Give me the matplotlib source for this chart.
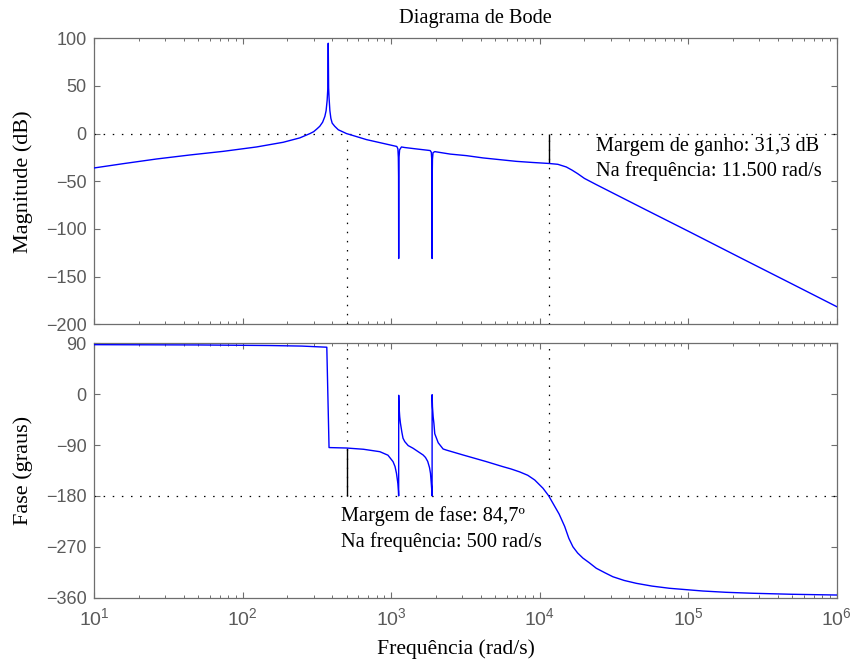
import matplotlib
matplotlib.use('Agg')
import matplotlib.pyplot as plt
from matplotlib.ticker import LogLocator, NullFormatter

plt.rcParams['font.family'] = ['Liberation Sans', 'DejaVu Sans']
plt.rcParams['mathtext.fontset'] = 'custom'
plt.rcParams['mathtext.rm'] = 'Liberation Sans'
plt.rcParams['mathtext.it'] = 'Liberation Sans:italic'
plt.rcParams['mathtext.bf'] = 'Liberation Sans:bold'

SERIF = ['Liberation Serif', 'DejaVu Serif']

# Magnitude (dB)
freq_mag = [10, 15.7, 26.3, 44.1, 73.9, 123.8, 187, 242, 283, 300, 315, 330, 345, 357,
            364, 370, 374, 376.3, 378.5, 381, 386, 392, 400, 416, 440, 474, 500, 526,
            681, 1028, 1090, 1108, 1116, 1120, 1122, 1124, 1128, 1138, 1171, 1233,
            1500, 1770, 1830, 1860, 1874, 1881, 1884, 1887, 1894, 1911, 1963, 2500,
            3206, 4150, 6955, 9000, 11500, 13240, 15100, 16500, 18000, 20000, 24040,
            49450, 102000, 233000, 480600, 1e6]
mag_db = [-36.0, -31.5, -26.6, -22.4, -18.6, -14.0, -9.1, -4.5, 0.0, 2.0, 4.8, 7.7, 12, 18,
          24, 35, 48, 94.8, 48, 38, 24, 16, 11, 7.7, 4, 1.7, 0.0, -1.0,
          -6.3, -12.6, -13.5, -16, -25, -45, -131, -45, -25, -17, -14.0, -14.6,
          -16.2, -17.5, -17.8, -19.5, -27, -47, -131, -47, -27, -20, -18.9, -21.5,
          -23.1, -25.5, -29.1, -30.3, -31.3, -32.2, -35.0, -38.3, -42.0, -47.0, -53.5,
          -78.3, -103.0, -131.5, -156.3, -181.5]

# Fase (graus)
freq_fase = [10, 50, 150, 250, 368, 381, 500, 650, 838, 950, 1028, 1060, 1084, 1108, 1118,
             1121.5, 1122.5, 1128, 1140, 1153, 1180, 1200, 1233, 1300, 1402, 1638, 1700,
             1760, 1810, 1837, 1860, 1877, 1883.5, 1884.5, 1894, 1915, 1937, 1963, 2071,
             2234, 2355, 3043, 4375, 5653, 6400, 7321, 8300, 9246, 10520, 11500, 12270,
             13500, 14720, 15700, 16730, 18000, 19530, 21500, 24040, 27500, 31100, 37000,
             44690, 57000, 74800, 125300, 180000, 272100, 500000, 1e6]
fase_graus = [87.5, 87, 86, 85, 83, -94.5, -95.3, -97.5, -101.8, -108, -119.4, -128, -140,
              -158, -172, -180, -2, -22, -40, -51.5, -68, -78, -84, -91, -95.7, -107.6,
              -112, -119, -130, -140, -158, -172, -180, -1, -22, -40, -51.5, -70, -86,
              -97, -99, -107.6, -119.4, -128.3, -132.3, -137.5, -143.5, -151.8, -166.5,
              -180, -193, -212, -234, -255, -270, -281, -290, -298, -308, -316, -323,
              -329.5, -334.6, -339.5, -343.4, -348.2, -350.5, -352.2, -354, -355.3]

# margens de estabilidade
w_cg = 11500   # frequencia da margem de ganho
mg = 31.3
w_cf = 500     # frequencia da margem de fase
mf = 84.7

fig = plt.figure(figsize=(8.55, 6.61), dpi=100)
ax1 = fig.add_axes([0.1103, 0.5094, 0.8683, 0.4327])
ax2 = fig.add_axes([0.1103, 0.0958, 0.8683, 0.3849])

dots = (0, (1.2, 6.1))

# magnitude
ax1.semilogx(freq_mag, mag_db, color='#0000ff', lw=1.0, zorder=3)
ax1.axhline(0, color='k', ls=dots, lw=0.9, zorder=2)
ax1.vlines([w_cf, w_cg], -200, 0, colors='k', linestyles=[dots], lw=0.9, zorder=2)
ax1.vlines(w_cg, -mg, 0, colors='k', lw=1.0, zorder=2)
ax1.text(24040, -18.6, 'Margem de ganho: 31,3 dB', family=SERIF, fontsize=14.7, va='baseline')
ax1.text(24040, -44.1, 'Na frequência: 11.500 rad/s', family=SERIF, fontsize=14.7, va='baseline')

# fase
ax2.semilogx(freq_fase, fase_graus, color='#0000ff', lw=1.0, zorder=3)
ax2.axhline(-180, color='k', ls=dots, lw=0.9, zorder=2)
ax2.vlines([w_cf, w_cg], -180, 90, colors='k', linestyles=[dots], lw=0.9, zorder=2)
ax2.vlines(w_cf, -180, -180 + mf, colors='k', lw=1.0, zorder=2)
ax2.text(462, -223.8, 'Margem de fase: 84,7º', family=SERIF, fontsize=14.7, va='baseline')
ax2.text(462, -269.8, 'Na frequência: 500 rad/s', family=SERIF, fontsize=14.7, va='baseline')

ax1.set_ylim(-200, 100)
ax1.set_yticks(range(-200, 101, 50))
ax2.set_ylim(-360, 90)
ax2.set_yticks(range(-360, 91, 90))

for ax in (ax1, ax2):
    ax.set_xlim(10, 1e6)
    ax.xaxis.set_major_locator(LogLocator(base=10, numticks=10))
    ax.xaxis.set_minor_locator(LogLocator(base=10, subs=range(2, 10), numticks=20))
    ax.xaxis.set_minor_formatter(NullFormatter())
    ax.tick_params(which='both', direction='in', top=True, right=True,
                   labelsize=13, labelcolor='#5a5a5a', color='#6e6e6e', pad=5.5)
    ax.tick_params(which='major', length=4.5, width=0.8)
    ax.tick_params(which='minor', length=2.5, width=0.7)
    for s in ax.spines.values():
        s.set_color('#6e6e6e')
        s.set_linewidth(0.9)

ax1.tick_params(labelbottom=False)
ax2.tick_params(axis='x', pad=7, labelsize=14)

ax1.set_ylabel('Magnitude (dB)', family=SERIF, fontsize=16)
ax1.yaxis.set_label_coords(-0.083, 0.5)
ax2.set_ylabel('Fase (graus)', family=SERIF, fontsize=16)
ax2.yaxis.set_label_coords(-0.083, 0.5)
ax2.set_xlabel('Frequência (rad/s)', family=SERIF, fontsize=15.6)
ax2.xaxis.set_label_coords(0.4866, -0.163)

fig.text(475 / 855, 1 - 22.7 / 661, 'Diagrama de Bode', family=SERIF, fontsize=14.7,
         ha='center', va='baseline')

fig.savefig('out.png', dpi=100)
